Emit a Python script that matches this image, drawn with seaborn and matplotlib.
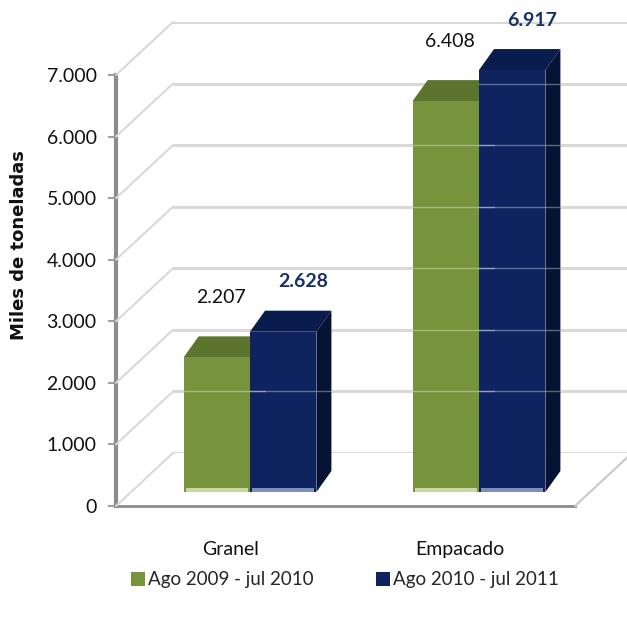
import matplotlib
matplotlib.use("Agg")
import matplotlib.pyplot as plt
from matplotlib.patches import Polygon, Patch
from matplotlib.lines import Line2D
from matplotlib.ticker import FuncFormatter
import pandas as pd
import seaborn as sns

# --- data -------------------------------------------------------------
categories = ["Granel", "Empacado"]
periods = ["Ago 2009 - jul 2010", "Ago 2010 - jul 2011"]
values_2009_2010 = [2207, 6408]
values_2010_2011 = [2628, 6917]
y_ticks = [0, 1000, 2000, 3000, 4000, 5000, 6000, 7000]

df = pd.DataFrame({
    "Tipo": categories * 2,
    "Periodo": [periods[0]] * 2 + [periods[1]] * 2,
    "Miles": values_2009_2010 + values_2010_2011,
})

front_cols = ["#77933C", "#0E2360"]
top_cols = ["#5C742D", "#0A1C4E"]
side_cols = ["#4F6427", "#051434"]
base_cols = ["#C9D6A8", "#7F8FB8"]
label_cols = ["#111111", "#16306A"]
label_weights = ["normal", "bold"]

sns.set_theme(style="white")
plt.rcParams["font.family"] = ["Lato", "DejaVu Sans"]

W, H = 627, 618
fig = plt.figure(figsize=(W / 100, H / 100), dpi=100)
fig.patch.set_facecolor("white")


def rect(left, bottom_px, width, height):
    """Axes rectangle from pixel geometry (y measured from the top)."""
    return [left / W, 1 - bottom_px / H, width / W, height / H]


# back wall: horizontal gridlines only
ax_back = fig.add_axes(rect(173, 453, 459, 431))
ax_back.set_xlim(-0.5, 1.5)
ax_back.set_ylim(0, 7000)
for v in y_ticks:
    ax_back.axhline(v, color="#D9D9D9", lw=2.2, zorder=0)
ax_back.axis("off")

# bar plane
ax = fig.add_axes(rect(135.5, 492, 458, 427))
sns.barplot(data=df, x="Tipo", y="Miles", hue="Periodo", hue_order=periods,
            order=categories, palette=front_cols, width=0.58, saturation=1,
            ax=ax, zorder=3)
ax.set_xlim(-0.5, 1.5)
ax.set_ylim(0, 7000)
ax.patch.set_alpha(0)
if ax.get_legend() is not None:
    ax.get_legend().remove()
ax.axis("off")

# front axis with ticks and labels
ax_front = fig.add_axes(rect(116, 506, 459, 431))
ax_front.set_xlim(-0.5, 1.5)
ax_front.set_ylim(0, 7000)
ax_front.patch.set_alpha(0)
ax_front.set_yticks(y_ticks)
ax_front.yaxis.set_major_formatter(FuncFormatter(lambda v, p: f"{int(v):,}".replace(",", ".")))
ax_front.set_xticks(range(len(categories)))
ax_front.set_xticklabels(categories)
ax_front.set_xticks([-0.5, 0.5, 1.5], minor=True)
ax_front.tick_params(axis="x", which="major", length=0, pad=25, labelsize=14, colors="#111111")
ax_front.tick_params(axis="x", which="minor", length=6, width=1.2, color="#8C8C8C", direction="out")
ax_front.tick_params(axis="y", length=6, width=1.2, color="#8C8C8C", direction="out",
                     labelsize=14, pad=8, left=True)
ax_front.tick_params(axis="y", labelcolor="#111111")
for s in ["top", "right"]:
    ax_front.spines[s].set_visible(False)
ax_front.spines["left"].set_color("#8C8C8C")
ax_front.spines["left"].set_linewidth(3)
ax_front.spines["bottom"].set_color("#8C8C8C")
ax_front.spines["bottom"].set_linewidth(2)
ax_front.set_ylabel("Miles de toneladas", fontsize=13, fontweight="bold",
                    family="DejaVu Sans", color="#111111")
ax_front.yaxis.set_label_coords(-0.192, 0.605)
ax_front.set_xlabel("")

# side wall and floor diagonals joining front axis and back wall
to_fig = fig.transFigure.inverted()
for v in y_ticks:
    p0 = to_fig.transform(ax_front.transData.transform((-0.5, v)))
    p1 = to_fig.transform(ax_back.transData.transform((-0.5, v)))
    fig.add_artist(Line2D([p0[0], p1[0]], [p0[1], p1[1]], color="#D9D9D9",
                          lw=1.5, transform=fig.transFigure, zorder=0.5))
p0 = to_fig.transform(ax_front.transData.transform((1.5, 0)))
p1 = to_fig.transform(ax_back.transData.transform((1.5, 0)))
fig.add_artist(Line2D([p0[0], p1[0]], [p0[1], p1[1]], color="#C8C8C8",
                      lw=1.5, transform=fig.transFigure, zorder=0.5))

# extruded tops and side faces of the bars
dx, dy = 15, 21
inv = ax.transData.inverted()
bars = [p for p in ax.patches if p.get_height() > 0]
for i, bar in enumerate(bars):
    s = 0 if i < len(categories) else 1
    x0, y0 = bar.get_x(), bar.get_y()
    x1, y1 = x0 + bar.get_width(), y0 + bar.get_height()
    (X0, Y0), (X1, Y1) = ax.transData.transform([(x0, y0), (x1, y1)])
    top = [(X0, Y1), (X1, Y1), (X1 + dx, Y1 + dy), (X0 + dx, Y1 + dy)]
    side = [(X1, Y0), (X1, Y1), (X1 + dx, Y1 + dy), (X1 + dx, Y0 + dy)]
    for pts, c in ((side, side_cols[s]), (top, top_cols[s])):
        ax.add_patch(Polygon(inv.transform(pts), closed=True, facecolor=c,
                             edgecolor="none", zorder=2, clip_on=False))
    # pale strip along the foot of the front face
    foot = [(X0 + 2, Y0), (X1 - 2, Y0), (X1 - 2, Y0 + 4), (X0 + 2, Y0 + 4)]
    ax.add_patch(Polygon(inv.transform(foot), closed=True, facecolor=base_cols[s],
                         edgecolor="none", zorder=4, clip_on=False))
    # back-wall gridlines showing faintly through the bars
    for v in y_ticks[1:]:
        Yg = ax_back.transData.transform((0, v))[1]
        if Y0 + 4 < Yg < Y1:
            seg = inv.transform([(X0, Yg), (X1 + dx, Yg)])
            ax.plot(seg[:, 0], seg[:, 1], color="white", alpha=0.35, lw=1,
                    zorder=5, clip_on=False)
    bar.set_edgecolor("none")

# value labels
label_offsets = [(4, 60), (20, 50)]
for i, bar in enumerate(bars):
    s = 0 if i < len(categories) else 1
    v = bar.get_height()
    ax.annotate(f"{int(v):,}".replace(",", "."),
                xy=(bar.get_x() + bar.get_width() / 2, v),
                xytext=(label_offsets[s][0] * 0.72, label_offsets[s][1] * 0.72),
                textcoords="offset points", ha="center", va="center",
                fontsize=14, color=label_cols[s], fontweight=label_weights[s],
                annotation_clip=False)

# legend
leg_handles = [Patch(facecolor=front_cols[k], edgecolor="none") for k in range(2)]
fig.legend(leg_handles, periods, loc="center", bbox_to_anchor=(0.55, 0.062),
           ncol=2, frameon=False, fontsize=13.5, handlelength=0.75, handleheight=0.75,
           handletextpad=0.15, columnspacing=3.3)

fig.savefig("out.png", dpi=100, facecolor="white")
